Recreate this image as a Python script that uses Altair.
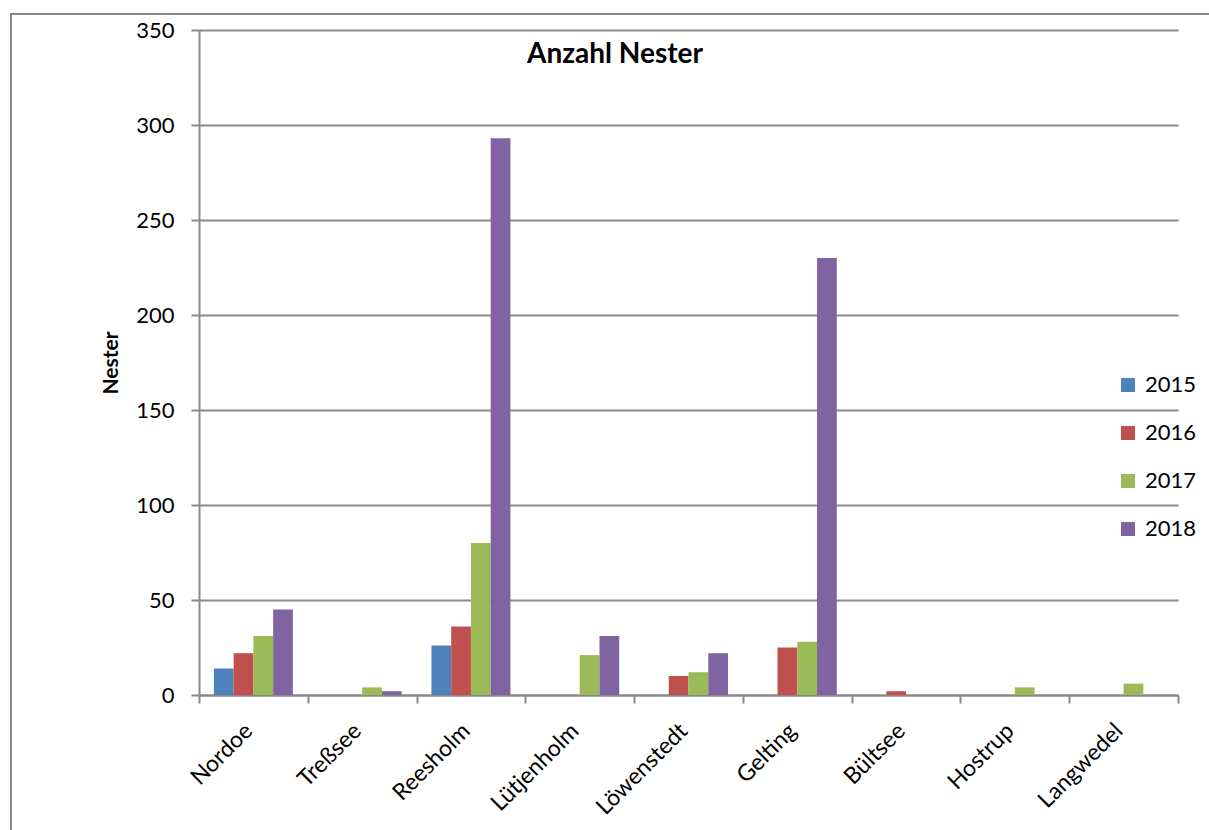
import altair as alt
import pandas as pd

sites = ["Nordoe", "Treßsee", "Reesholm", "Lütjenholm", "Löwenstedt",
         "Gelting", "Bültsee", "Hostrup", "Langwedel"]
years = ["2015", "2016", "2017", "2018"]
v2015 = [14, 0, 26, 0, 0, 0, 0, 0, 0]
v2016 = [22, 0, 36, 0, 10, 25, 2, 0, 0]
v2017 = [31, 4, 80, 21, 12, 28, 0, 4, 6]
v2018 = [45, 2, 293, 31, 22, 230, 0, 0, 0]
colors = ["#4F81BD", "#C0504D", "#9BBB59", "#8064A2"]
y_ticks = [0, 50, 100, 150, 200, 250, 300, 350]
title_text = "Anzahl Nester"

rows = []
for yr, vals in zip(years, [v2015, v2016, v2017, v2018]):
    for s, v in zip(sites, vals):
        rows.append({"Ort": s, "Jahr": yr, "Nester": v})
df = pd.DataFrame(rows)

FONT = "Lato"
GRAY = "#898989"

bars = alt.Chart(df).transform_filter("datum.Nester > 0").mark_bar().encode(
    x=alt.X("Ort:N", sort=sites,
            scale=alt.Scale(domain=sites, paddingInner=0, paddingOuter=0),
            axis=alt.Axis(title=None, labelAngle=-45, labelFontSize=23, labelFont=FONT,
                          labelColor="black", labelAlign="right", labelBaseline="middle",
                          tickBand="extent", tickSize=8, labelOffset=-5,
                          tickColor=GRAY, tickWidth=2, domainColor=GRAY, domainWidth=2,
                          labelPadding=24, grid=False)),
    xOffset=alt.XOffset("Jahr:N", sort=years,
                        scale=alt.Scale(domain=years, paddingInner=0, paddingOuter=0.754)),
    y=alt.Y("Nester:Q", scale=alt.Scale(domain=[0, 350], nice=False),
            axis=alt.Axis(title="Nester", values=y_ticks, labelFontSize=22, labelFont=FONT,
                          labelColor="black", titleFont=FONT, titleFontSize=21,
                          titleFontWeight="bold", titleColor="black", titlePadding=14,
                          tickSize=8, tickColor=GRAY, tickWidth=2, domainColor=GRAY,
                          domainWidth=2, labelPadding=17, gridColor=GRAY, gridWidth=2)),
    color=alt.Color("Jahr:N", sort=years,
                    scale=alt.Scale(domain=years, range=colors),
                    legend=alt.Legend(title=None, orient="none", legendX=918, legendY=344,
                                      symbolType="square", symbolSize=196,
                                      symbolStrokeWidth=0, labelFontSize=22,
                                      labelFont=FONT, labelColor="black",
                                      rowPadding=26, labelOffset=6, padding=0)),
)

border = alt.Chart(pd.DataFrame({"a": [0]})).mark_rect(
    fill=None, stroke=GRAY, strokeWidth=2, clip=False
).encode(
    x=alt.value(-188), x2=alt.value(1400), y=alt.value(-16), y2=alt.value(1000)
)

title = alt.Chart(pd.DataFrame({"t": [title_text]})).mark_text(
    font=FONT, fontSize=28, fontWeight="bold", color="black",
    align="center", baseline="middle"
).encode(text="t:N", x=alt.value(416), y=alt.value(25))

chart = alt.layer(border, bars, title).properties(
    width=979, height=665,
    padding={"left": 199, "top": 30, "right": 31, "bottom": 135},
    autosize=alt.AutoSizeParams(type="none"),
).configure_view(stroke=None)

chart.save("out.html", embed_options={"renderer": "svg", "actions": False})
